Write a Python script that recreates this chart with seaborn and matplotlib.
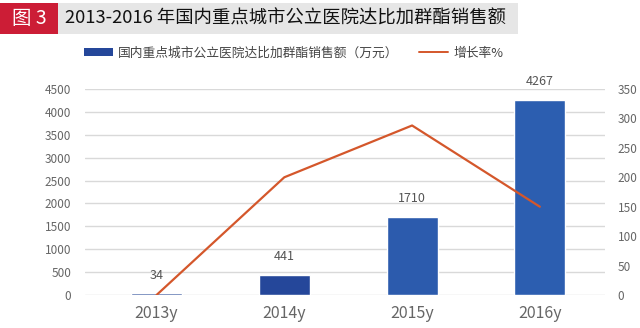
import matplotlib
matplotlib.use("Agg")
import matplotlib.pyplot as plt
import seaborn as sns
import pandas as pd
from matplotlib.patches import Rectangle, Patch
from matplotlib.lines import Line2D

years = ["2013y", "2014y", "2015y", "2016y"]
sales = [34, 441, 1710, 4267]
growth = [0, 200, 288, 150]
bar_colors = ["#3a5aa0", "#25479a", "#2c5bad", "#2c5eb0"]
title = "2013-2016 年国内重点城市公立医院达比加群酯销售额"
fig_label = "图 3"
bar_label = "国内重点城市公立医院达比加群酯销售额（万元）"
line_label = "增长率%"

sns.set_theme(style="white")
plt.rcParams["font.family"] = ["Noto Sans CJK SC", "DejaVu Sans"]

W, H = 640, 328
fig = plt.figure(figsize=(W / 100, H / 100), dpi=100)
fig.patch.set_facecolor("white")

# Title bar
fig.patches.append(Rectangle((0, 1 - 34 / H), 58 / W, 31 / H, transform=fig.transFigure,
                             facecolor="#cc1d36", edgecolor="none", zorder=0))
fig.patches.append(Rectangle((58 / W, 1 - 34 / H), 460 / W, 31 / H, transform=fig.transFigure,
                             facecolor="#e6e6e6", edgecolor="none", zorder=0))
fig.text(29 / W, 1 - 18.5 / H, fig_label, color="white", fontsize=14, ha="center", va="center")
fig.text(65 / W, 1 - 18.5 / H, title, color="#111111", fontsize=13.2, ha="left", va="center",
         fontweight="medium")

left, right, top, bottom = 85, 605, 89, 295
ax = fig.add_axes([left / W, 1 - bottom / H, (right - left) / W, (bottom - top) / H])
df = pd.DataFrame({"year": years, "sales": sales, "growth": growth})
sns.barplot(data=df, x="year", y="sales", hue="year", palette=bar_colors, width=0.4,
            saturation=1, legend=False, ax=ax, zorder=3)
ax.set_ylim(0, 4500)
ax.set_yticks(range(0, 4501, 500))
ax.grid(axis="y", color="#d9d9d9", linewidth=1, zorder=0)
ax.set_axisbelow(True)
for s in ax.spines.values():
    s.set_visible(False)
ax.set_xlabel("")
ax.set_ylabel("")
ax.tick_params(axis="y", labelsize=8.5, colors="#666666", length=0, pad=10)
ax.tick_params(axis="x", labelsize=11.5, colors="#666666", length=0, pad=7)
for i, v in enumerate(sales):
    ax.annotate(str(v), (i, v), xytext=(0, 13), textcoords="offset points",
                ha="center", va="center", fontsize=9, color="#555555")

ax2 = ax.twinx()
sns.lineplot(data=df, x="year", y="growth", color="#d4572b", linewidth=1.6, ax=ax2,
             sort=False, zorder=4)
ax2.set_ylim(0, 350)
ax2.set_yticks(range(0, 351, 50))
for s in ax2.spines.values():
    s.set_visible(False)
ax2.set_ylabel("")
ax2.tick_params(axis="y", labelsize=8.5, colors="#666666", length=0, pad=9)
ax2.grid(False)
ax.set_xlim(-0.56, 3.51)

handles = [Patch(facecolor="#25479a", edgecolor="none"),
           Line2D([0], [0], color="#d4572b", linewidth=1.4)]
fig.legend(handles, [bar_label, line_label], loc="center left", bbox_to_anchor=(72 / W, 1 - 53 / H),
           ncol=2, frameon=False, fontsize=9.2, handlelength=2.3, handleheight=0.5,
           columnspacing=1.6, handletextpad=0.4, labelcolor="#444444")

fig.savefig("out.png", dpi=100)
